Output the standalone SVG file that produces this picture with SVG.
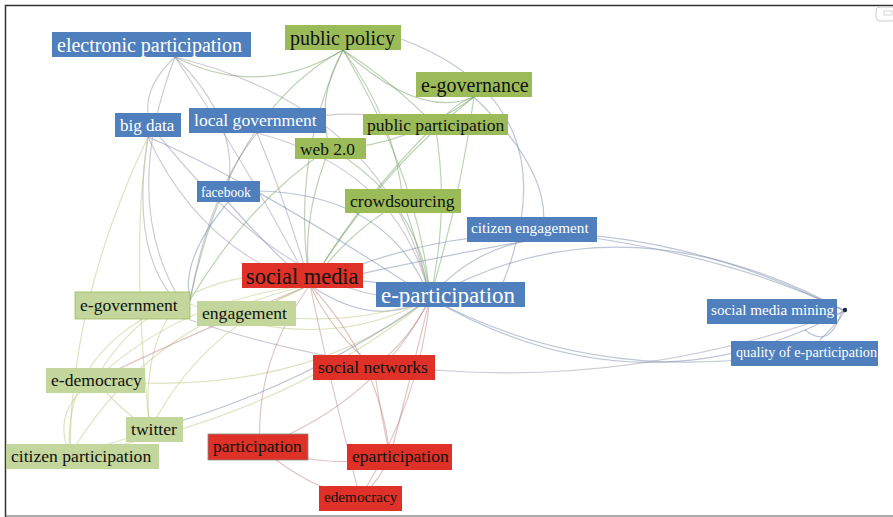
<svg xmlns="http://www.w3.org/2000/svg" width="893" height="517" viewBox="0 0 893 517">
<style>
.bl{fill:#4f7fbd}.gr{fill:#9bbb59}.lg{fill:#c3d69b}.rd{fill:#df3127}
.tw{fill:#ffffff;font-family:"Liberation Serif",serif}
.tk{fill:#111111;font-family:"Liberation Serif",serif}
.e{fill:none;stroke-width:1.2;stroke-linecap:round}
.eb{stroke:#7d8cab;opacity:.5}.eg{stroke:#6f9a5e;opacity:.45}.el{stroke:#c2cc8c;opacity:.55}.er{stroke:#b56d6d;opacity:.4}.ep{stroke:#8b7a9c;opacity:.4}
</style>
<rect x="0" y="0" width="893" height="517" fill="#ffffff"/>
<path d="M5.5 517 V5.5 H893" fill="none" stroke="#333" stroke-width="1.5"/>
<path d="M5 516 H893" stroke="#555" stroke-width="1"/>
<rect x="876" y="7" width="20" height="14" rx="4" fill="none" stroke="#ccc"/>
<rect x="884" y="11" width="8" height="4" fill="none" stroke="#ccc" stroke-width="0.8"/>
<g id="connectors">
<path class="e eb" stroke-width="3" d="M310 285 Q370 272 430 298"/>
<path class="e eb" stroke-width="2" d="M310 285 Q375 330 430 298"/>
<path class="e eb" stroke-width="2" d="M430 298 Q620 190 845 311"/>
<path class="e eb" stroke-width="1.8" d="M430 298 Q640 420 845 311"/>
<path class="e eb" stroke-width="1.5" d="M430 298 Q600 390 810 350"/>
<path class="e eb" d="M310 285 Q560 170 845 311"/>
<path class="e ep" d="M190 320 Q520 430 845 311"/>
<path class="e eb" d="M532 230 Q720 250 845 311"/>
<path class="e eb" d="M820 340 Q840 320 845 311"/>
<path class="e eb" d="M805 330 Q830 350 842 311"/>
<path class="e eb" stroke-width="1.6" d="M532 240 Q470 250 430 298"/>
<path class="e eb" d="M532 240 Q420 260 310 285"/>
<path class="e eb" d="M390 35 Q580 100 500 290"/>
<path class="e eb" d="M474 97 Q560 180 540 240"/>
<path class="e eg" stroke-width="1.6" d="M474 97 Q460 200 430 298"/>
<path class="e eg" d="M474 97 Q380 170 310 285"/>
<path class="e eg" d="M474 97 Q420 120 343 50"/>
<path class="e eg" d="M474 97 Q400 150 330 148"/>
<path class="e eg" stroke-width="1.5" d="M343 50 Q290 160 310 285"/>
<path class="e eg" d="M343 50 Q420 180 430 298"/>
<path class="e eg" d="M343 50 Q315 100 330 148"/>
<path class="e eg" d="M343 50 Q395 120 403 201"/>
<path class="e eg" d="M343 50 Q260 100 175 57"/>
<path class="e eg" d="M343 50 Q390 80 435 125"/>
<path class="e eg" d="M343 50 Q230 110 190 300"/>
<path class="e ep" d="M175 57 Q250 170 310 285"/>
<path class="e ep" d="M175 57 Q390 110 430 298"/>
<path class="e ep" d="M175 57 Q145 85 148 113"/>
<path class="e ep" d="M175 57 Q240 120 228 191"/>
<path class="e ep" d="M175 57 Q120 200 180 300"/>
<path class="e ep" d="M257 133 Q285 200 310 285"/>
<path class="e ep" d="M257 133 Q400 170 430 298"/>
<path class="e ep" d="M257 133 Q210 190 190 300"/>
<path class="e ep" d="M257 133 Q330 100 435 125"/>
<path class="e ep" d="M148 137 Q200 250 310 285"/>
<path class="e ep" d="M160 137 Q300 310 430 298"/>
<path class="e ep" d="M148 137 Q130 250 175 300"/>
<path class="e eb" d="M228 202 Q270 250 310 285"/>
<path class="e eb" d="M260 191 Q390 195 430 298"/>
<path class="e eb" d="M228 202 Q180 260 190 300"/>
<path class="e eg" d="M330 148 Q300 220 310 285"/>
<path class="e eg" d="M330 148 Q420 200 430 298"/>
<path class="e eg" d="M330 148 Q250 200 190 300"/>
<path class="e eg" d="M403 201 Q350 230 310 285"/>
<path class="e eg" d="M403 201 Q420 250 430 298"/>
<path class="e eg" d="M435 125 Q360 200 310 285"/>
<path class="e eg" d="M435 125 Q450 210 430 298"/>
<path class="e eg" d="M435 125 Q460 100 474 97"/>
<path class="e el" stroke-width="2.5" d="M180 300 Q250 262 310 285"/>
<path class="e el" d="M180 300 Q320 360 430 298"/>
<path class="e el" d="M246 313 Q280 300 310 285"/>
<path class="e el" d="M246 313 Q350 330 430 298"/>
<path class="e el" d="M95 380 Q180 300 310 285"/>
<path class="e el" d="M95 380 Q130 320 180 300"/>
<path class="e el" d="M95 380 Q120 410 150 430"/>
<path class="e el" d="M95 380 Q300 400 430 298"/>
<path class="e el" d="M150 430 Q200 330 310 285"/>
<path class="e el" d="M150 430 Q140 350 180 300"/>
<path class="e el" d="M150 430 Q110 445 70 455"/>
<path class="e el" d="M150 430 Q130 250 148 137"/>
<path class="e el" d="M70 455 Q150 320 310 285"/>
<path class="e el" d="M70 455 Q60 350 180 300"/>
<path class="e el" d="M70 455 Q50 410 95 380"/>
<path class="e el" d="M70 455 Q70 300 148 137"/>
<path class="e el" d="M70 455 Q280 420 430 298"/>
<path class="e er" d="M260 447 Q255 360 310 285"/>
<path class="e er" d="M260 447 Q380 400 430 298"/>
<path class="e er" d="M260 447 Q310 490 360 498"/>
<path class="e er" d="M260 447 Q330 470 390 457"/>
<path class="e er" stroke-width="1.6" d="M390 457 Q380 360 310 285"/>
<path class="e er" d="M390 457 Q410 380 430 298"/>
<path class="e er" d="M390 457 Q380 410 374 367"/>
<path class="e er" d="M360 498 Q330 380 310 285"/>
<path class="e er" d="M360 498 Q420 400 430 298"/>
<path class="e er" d="M360 498 Q380 480 390 457"/>
<path class="e er" stroke-width="1.5" d="M374 367 Q330 330 310 285"/>
<path class="e er" d="M374 367 Q410 340 430 298"/>
<path class="e er" d="M310 285 Q200 330 95 380"/>
<path class="e eb" d="M430 298 Q300 390 150 430"/>
<path class="e eb" d="M430 298 Q250 180 148 137"/>
</g>
<g id="n-electronic-participation"><rect class="bl" x="52" y="32" width="199" height="25"/><text class="tw" x="57" y="51.5" font-size="20">electronic participation</text></g>
<g id="n-public-policy"><rect class="gr" x="285" y="25" width="116" height="25"/><text class="tk" x="290" y="44.5" font-size="20">public policy</text></g>
<g id="n-e-governance"><rect class="gr" x="416" y="72" width="116" height="25"/><text class="tk" x="421" y="91.5" font-size="20">e-governance</text></g>
<g id="n-big-data"><rect class="bl" x="115" y="113" width="66" height="24"/><text class="tw" x="120" y="131" font-size="17">big data</text></g>
<g id="n-local-government"><rect class="bl" x="189" y="108" width="137" height="25"/><text class="tw" x="194" y="126" font-size="17.6">local government</text></g>
<g id="n-public-participation"><rect class="gr" x="363" y="114" width="145" height="21"/><text class="tk" x="367" y="131" font-size="17.6">public participation</text></g>
<g id="n-web-2-0"><rect class="gr" x="295" y="138" width="71" height="21"/><text class="tk" x="300" y="155" font-size="17.4">web 2.0</text></g>
<g id="n-facebook"><rect class="bl" x="197" y="181" width="63" height="21"/><text class="tw" x="201" y="196.5" font-size="13.6">facebook</text></g>
<g id="n-crowdsourcing"><rect class="gr" x="345" y="189" width="116" height="24"/><text class="tk" x="350" y="207" font-size="17.6">crowdsourcing</text></g>
<g id="n-citizen-engagement"><rect class="bl" x="467" y="217" width="130" height="25"/><text class="tw" x="471" y="233" font-size="15.2">citizen engagement</text></g>
<g id="n-social-media"><rect class="rd" x="242" y="263" width="121" height="25"/><text class="tk" x="246" y="284" font-size="22.4">social media</text></g>
<g id="n-e-participation"><rect class="bl" x="376" y="282" width="149" height="25"/><text class="tw" x="381" y="303" font-size="23">e-participation</text></g>
<g id="n-e-government"><rect class="lg" x="75" y="292" width="115" height="27" stroke="#9bbb59" stroke-width="0.8"/><text class="tk" x="80" y="310.5" font-size="17.6">e-government</text></g>
<g id="n-engagement"><rect class="lg" x="197" y="301" width="99" height="25"/><text class="tk" x="202" y="319" font-size="17.6">engagement</text></g>
<g id="n-social-networks"><rect class="rd" x="313" y="355" width="122" height="25"/><text class="tk" x="318" y="372.5" font-size="17.6">social networks</text></g>
<g id="n-e-democracy"><rect class="lg" x="46" y="368" width="99" height="25"/><text class="tk" x="51" y="386" font-size="17.6">e-democracy</text></g>
<g id="n-twitter"><rect class="lg" x="126" y="417" width="57" height="25"/><text class="tk" x="131" y="434.5" font-size="17.6">twitter</text></g>
<g id="n-citizen-participation"><rect class="lg" x="6" y="444" width="153" height="25"/><text class="tk" x="11" y="462" font-size="17.6">citizen participation</text></g>
<g id="n-participation"><rect class="rd" x="208" y="434" width="100" height="26" stroke="#888" stroke-width="0.8"/><text class="tk" x="213" y="452" font-size="17.6">participation</text></g>
<g id="n-eparticipation"><rect class="rd" x="347" y="444" width="105" height="26"/><text class="tk" x="352" y="462" font-size="17.6">eparticipation</text></g>
<g id="n-edemocracy"><rect class="rd" x="319" y="486" width="83" height="25"/><text class="tk" x="324" y="501.5" font-size="15.2">edemocracy</text></g>
<g id="n-social-media-mining"><rect class="bl" x="707" y="299" width="130" height="25"/><text class="tw" x="711" y="315" font-size="15.2">social media mining</text></g>
<g id="n-quality-of-e-participation"><rect class="bl" x="731" y="341" width="147" height="25"/><text class="tw" x="736" y="356.5" font-size="14.2">quality of e-participation</text></g>
<g id="n-dot"><circle cx="845" cy="310" r="2.2" fill="#1a2a44"/></g>
</svg>
